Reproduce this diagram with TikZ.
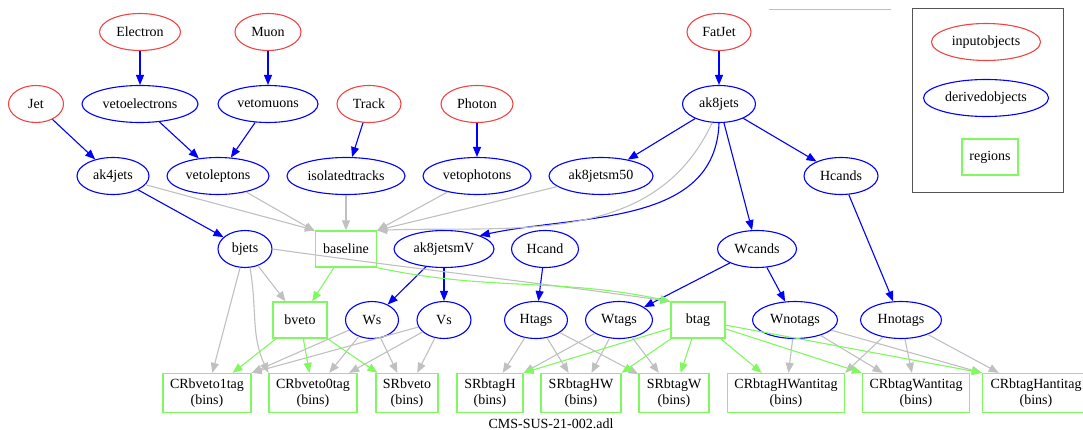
\documentclass[tikz,border=0pt]{standalone}
\usepackage{fontspec}
\setmainfont{Liberation Serif}
\usepackage{tikz}
\usetikzlibrary{shapes.geometric, arrows.meta}
\usepackage{xcolor}
\definecolor{redaccent}{HTML}{F04545}
\definecolor{blueaccent}{HTML}{0000FF}
\definecolor{greenaccent}{HTML}{80F860}
\definecolor{grayaccent}{HTML}{C0C0C0}
\definecolor{framegray}{HTML}{555555}

\tikzset{
  inobj/.style={ellipse, draw=redaccent, line width=1.1pt, inner xsep=-70pt, inner ysep=-20pt, minimum height=37pt, minimum width=#1},
  derobj/.style={ellipse, draw=blueaccent, line width=1.1pt, inner xsep=-70pt, inner ysep=-20pt, minimum height=37pt, minimum width=#1},
  region/.style={rectangle, draw=greenaccent, line width=1.3pt, inner sep=0pt, minimum height=36pt, minimum width=#1, align=center},
  binbox/.style={region=#1, minimum height=39pt},
  tip/.style={-{Triangle[length=10pt, width=8pt]}},
  blueline/.style={tip, draw=blueaccent, line width=1.1pt},
  grayline/.style={tip, draw=grayaccent, line width=1.1pt},
  greenline/.style={tip, draw=greenaccent, line width=1.1pt}
}

\begin{document}
\begin{tikzpicture}[x=1pt, y=-1pt, font=\fontsize{14}{16}\selectfont]
\useasboundingbox (0,0) rectangle (1083,430);

% input objects
\node[inobj=81pt] (electron) at (140,32) {Electron};
\node[inobj=66pt] (muon) at (268,32) {Muon};
\node[inobj=64pt] (fatjet) at (719,32) {FatJet};
\node[inobj=55pt] (jet) at (36,104) {Jet};
\node[inobj=64pt] (track) at (369,104) {Track};
\node[inobj=72pt] (photon) at (477,104) {Photon};

% derived objects
\node[derobj=116pt] (vetoelectrons) at (140,104) {vetoelectrons};
\node[derobj=100pt] (vetomuons) at (268,104) {vetomuons};
\node[derobj=73pt] (ak8jets) at (719,104) {ak8jets};
\node[derobj=72pt] (ak4jets) at (113,176) {ak4jets};
\node[derobj=102pt] (vetoleptons) at (218,176) {vetoleptons};
\node[derobj=118pt] (isolatedtracks) at (346,176) {isolatedtracks};
\node[derobj=108pt] (vetophotons) at (477,176) {vetophotons};
\node[derobj=104pt] (ak8jetsm50) at (601,176) {ak8jetsm50};
\node[derobj=74pt] (hcands) at (841,176) {Hcands};
\node[derobj=54pt] (bjets) at (245,249) {bjets};
\node[derobj=100pt] (ak8jetsmV) at (444,249) {ak8jetsmV};
\node[derobj=67pt] (hcand) at (545,249) {Hcand};
\node[derobj=79pt] (wcands) at (757,249) {Wcands};
\node[derobj=53pt] (ws) at (372,320) {Ws};
\node[derobj=54pt] (vs) at (444,320) {Vs};
\node[derobj=63pt] (htags) at (536,320) {Htags};
\node[derobj=67pt] (wtags) at (619,320) {Wtags};
\node[derobj=85pt] (wnotags) at (795,320) {Wnotags};
\node[derobj=81pt] (hnotags) at (901,320) {Hnotags};

% regions
\node[region=61pt] (baseline) at (346,249) {baseline};
\node[region=54pt] (bveto) at (300,320) {bveto};
\node[region=54pt] (btag) at (698,320) {btag};
\node[binbox=88pt] (crbveto1tag) at (207,393) {CRbveto1tag\\(bins)};
\node[binbox=88pt] (crbveto0tag) at (313,393) {CRbveto0tag\\(bins)};
\node[binbox=62pt] (srbveto) at (407,393) {SRbveto\\(bins)};
\node[binbox=66pt] (srbtagh) at (490,393) {SRbtagH\\(bins)};
\node[binbox=80pt] (srbtaghw) at (581,393) {SRbtagHW\\(bins)};
\node[binbox=70pt] (srbtagw) at (674,393) {SRbtagW\\(bins)};
\node[binbox=117pt] (crbtaghwanti) at (786,393) {CRbtagHWantitag\\(bins)};
\node[binbox=107pt] (crbtagwanti) at (916,393) {CRbtagWantitag\\(bins)};
\node[binbox=107pt] (crbtaghanti) at (1036,393) {CRbtagHantitag\\(bins)};

\node (caption) at (551,424) {CMS-SUS-21-002.adl};

% legend
\draw[grayaccent, line width=0.8pt] (769,9) -- (891,9);
\node[draw=framegray, line width=1pt, minimum width=151pt, minimum height=184pt, inner sep=0pt] (legend) at (987.5,101) {};
\node[inobj=109pt] (leginput) at (986,42) {inputobjects};
\node[derobj=125pt] (legderived) at (986,98) {derivedobjects};
\node[region=56pt] (legregion) at (990,157) {regions};

% object derivations
\draw[blueline] (electron) -- (vetoelectrons);
\draw[blueline] (muon) -- (vetomuons);
\draw[blueline] (fatjet) -- (ak8jets);
\draw[blueline] (jet) -- (ak4jets);
\draw[blueline] (track) -- (isolatedtracks);
\draw[blueline] (photon) -- (vetophotons);
\draw[blueline] (vetoelectrons) -- (vetoleptons);
\draw[blueline] (vetomuons) -- (vetoleptons);
\draw[blueline] (ak4jets) -- (bjets);
\draw[blueline] (ak8jets) -- (ak8jetsm50);
\draw[blueline] (ak8jets) -- (hcands);
\draw[blueline] (ak8jets) -- (wcands);
\draw[blueline] (ak8jets.south) to[out=-92, in=12] (ak8jetsmV.north east);
\draw[blueline] (ak8jetsmV) -- (ws);
\draw[blueline] (ak8jetsmV) -- (vs);
\draw[blueline] (hcand) -- (htags);
\draw[blueline] (wcands) -- (wtags);
\draw[blueline] (wcands) -- (wnotags);
\draw[blueline] (hcands) -- (hnotags);

% inputs to baseline
\draw[grayline] (ak4jets) -- (baseline.north west);
\draw[grayline] (vetoleptons) -- (baseline);
\draw[grayline] (isolatedtracks) -- (baseline);
\draw[grayline] (vetophotons) -- (baseline.north east);
\draw[grayline] (ak8jetsm50) -- (baseline.north east);
\draw[grayline] (ak8jets.250) to[out=-115, in=2] (baseline.north east);

% b-veto branch
\draw[greenline] (baseline) -- (bveto);
\draw[grayline] (bjets) -- (bveto);
\draw[grayline] (bjets) -- (crbveto1tag);
\draw[grayline] (bjets.-75) to[out=-80, in=115] (crbveto0tag.north west);
\draw[grayline] (ws) -- (crbveto1tag.north east);
\draw[grayline] (vs) -- (crbveto1tag.north east);
\draw[grayline] (ws) -- (crbveto0tag);
\draw[grayline] (vs) -- (crbveto0tag);
\draw[grayline] (ws) -- (srbveto);
\draw[grayline] (vs) -- (srbveto);
\draw[greenline] (bveto) -- (crbveto1tag);
\draw[greenline] (bveto) -- (crbveto0tag);
\draw[greenline] (bveto) -- (srbveto);

% b-tag branch
\draw[grayline] (bjets.east) to[out=-8, in=172] (btag.north west);
\draw[greenline] (baseline.south east) to[out=-12, in=168] (btag.north west);
\draw[grayline] (htags) -- (srbtagh);
\draw[grayline] (htags) -- (srbtaghw);
\draw[grayline] (htags) -- (srbtagw);
\draw[grayline] (wtags) -- (srbtagh.north east);
\draw[grayline] (wtags) -- (srbtaghw);
\draw[grayline] (wtags) -- (srbtagw);
\draw[grayline] (wnotags) -- (crbtaghwanti);
\draw[grayline] (wnotags) -- (crbtagwanti);
\draw[grayline] (wnotags) -- (crbtaghanti.north west);
\draw[grayline] (hnotags) -- (crbtaghwanti.north east);
\draw[grayline] (hnotags) -- (crbtagwanti);
\draw[grayline] (hnotags) -- (crbtaghanti);
\draw[greenline] (btag) -- (srbtagh.north east);
\draw[greenline] (btag) -- (srbtaghw.north east);
\draw[greenline] (btag) -- (srbtagw);
\draw[greenline] (btag) -- (crbtaghwanti);
\draw[greenline] (btag) -- (crbtagwanti.north west);
\draw[greenline] (btag) -- (crbtaghanti.north west);
\end{tikzpicture}
\end{document}
